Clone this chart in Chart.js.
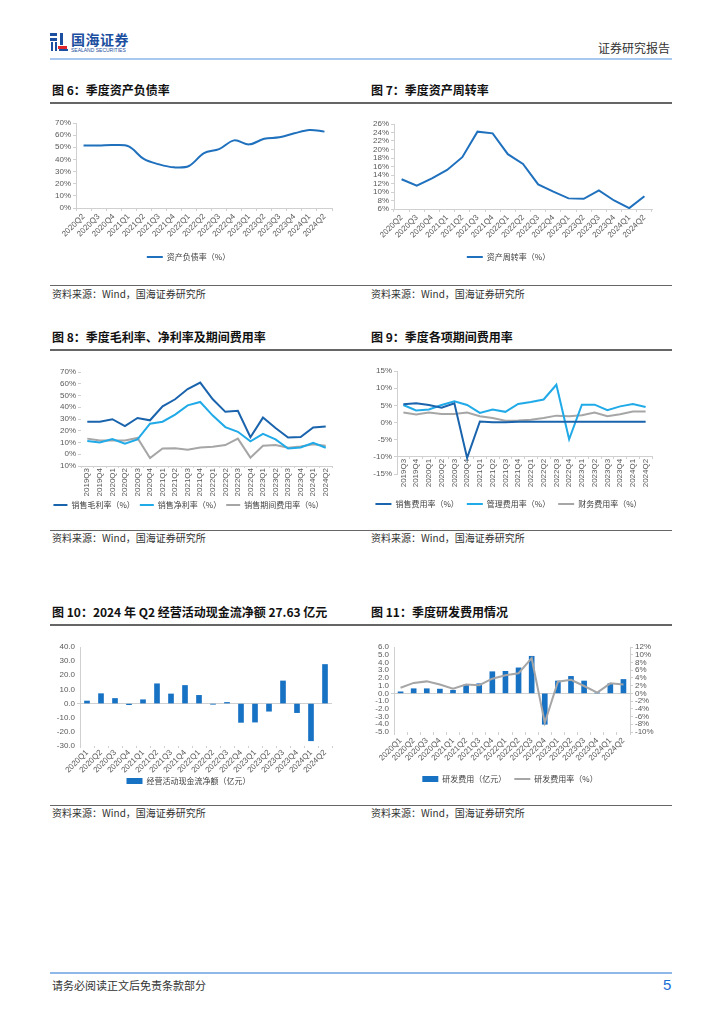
<!DOCTYPE html>
<html lang="zh-CN">
<head>
<meta charset="utf-8">
<script src="https://cdn.jsdelivr.net/npm/chart.js@4.4.1/dist/chart.umd.min.js"></script>
<style>
  body { margin: 0; background: #fff; width: 724px; height: 1024px; position: relative; overflow: hidden;
         font-family: "Noto Sans CJK SC", "Noto Sans", sans-serif; }
  .abs { position: absolute; }
  .title { position: absolute; font-size: 12px; font-weight: 700; color: #111; line-height: 14px; white-space: nowrap; }
  .src { position: absolute; font-size: 10px; color: #333; line-height: 12px; white-space: nowrap; }
  .rule { position: absolute; left: 50px; width: 622px; height: 1px; background: #666; }
  canvas { position: absolute; }
</style>
</head>
<body>

<!-- 页眉 -->
<div class="abs" style="left:50px;top:33px;width:7px;height:3px;background:#1c4fa0"></div>
<div class="abs" style="left:50px;top:38px;width:7px;height:3px;background:#1c4fa0"></div>
<div class="abs" style="left:51px;top:42px;width:2px;height:9px;background:#1c4fa0"></div>
<div class="abs" style="left:55px;top:42px;width:2px;height:9px;background:#1c4fa0"></div>
<div class="abs" style="left:60px;top:33px;width:3px;height:12px;background:#1c4fa0"></div>
<div class="abs" style="left:58px;top:46px;width:9px;height:3px;background:#e0262b"></div>
<div class="abs" style="left:59px;top:49px;width:9px;height:2px;background:#1c4fa0"></div>
<div class="abs" style="left:71px;top:31px;font-size:14px;font-weight:700;color:#1c4fa0;line-height:16px;letter-spacing:0.5px">国海证券</div>
<div class="abs" style="left:71px;top:47px;font-size:5px;color:#1c4fa0;line-height:6px;font-family:'Liberation Sans',sans-serif">SEALAND SECURITIES</div>
<div class="abs" style="left:598px;top:41px;font-size:12px;color:#333;line-height:14px">证券研究报告</div>
<div class="abs" style="left:50px;top:58px;width:622px;height:2px;background:#a8c8f0"></div>

<!-- 第一行 -->
<div class="title" style="left:52px;top:83px">图 6：季度资产负债率</div>
<div class="title" style="left:371px;top:83px">图 7：季度资产周转率</div>
<div class="rule" style="top:102px;height:2px"></div>
<canvas id="c6" width="300" height="170" style="left:45px;top:110px"></canvas>
<canvas id="c7" width="320" height="170" style="left:365px;top:110px"></canvas>
<div class="rule" style="top:285px"></div>
<div class="src" style="left:52px;top:288px">资料来源：Wind，国海证券研究所</div>
<div class="src" style="left:371px;top:288px">资料来源：Wind，国海证券研究所</div>

<!-- 第二行 -->
<div class="title" style="left:52px;top:330px">图 8：季度毛利率、净利率及期间费用率</div>
<div class="title" style="left:371px;top:330px">图 9：季度各项期间费用率</div>
<div class="rule" style="top:349px;height:2px"></div>
<canvas id="c8" width="300" height="165" style="left:45px;top:358px"></canvas>
<canvas id="c9" width="320" height="165" style="left:365px;top:358px"></canvas>
<div class="rule" style="top:530px"></div>
<div class="src" style="left:52px;top:532px">资料来源：Wind，国海证券研究所</div>
<div class="src" style="left:371px;top:532px">资料来源：Wind，国海证券研究所</div>

<!-- 第三行 -->
<div class="title" style="left:52px;top:605px">图 10：2024 年 Q2 经营活动现金流净额 27.63 亿元</div>
<div class="title" style="left:371px;top:605px">图 11：季度研发费用情况</div>
<div class="rule" style="top:624px;height:2px"></div>
<canvas id="c10" width="300" height="163" style="left:45px;top:632px"></canvas>
<canvas id="c11" width="320" height="163" style="left:365px;top:632px"></canvas>
<div class="rule" style="top:805px"></div>
<div class="src" style="left:52px;top:807px">资料来源：Wind，国海证券研究所</div>
<div class="src" style="left:371px;top:807px">资料来源：Wind，国海证券研究所</div>

<!-- 页脚 -->
<div class="abs" style="left:50px;top:972px;width:622px;height:2px;background:#8fb8ea"></div>
<div class="abs" style="left:52px;top:978px;font-size:11px;color:#333;line-height:14px">请务必阅读正文后免责条款部分</div>
<div class="abs" style="left:663px;top:976px;font-size:15px;color:#1a6fd6;line-height:18px;font-family:'Liberation Sans',sans-serif">5</div>

<script>
// 季度标签
const q2020Q2 = ['2020Q2','2020Q3','2020Q4','2021Q1','2021Q2','2021Q3','2021Q4','2022Q1','2022Q2','2022Q3','2022Q4','2023Q1','2023Q2','2023Q3','2023Q4','2024Q1','2024Q2'];
const q2019Q3 = ['2019Q3','2019Q4','2020Q1','2020Q2','2020Q3','2020Q4','2021Q1','2021Q2','2021Q3','2021Q4','2022Q1','2022Q2','2022Q3','2022Q4','2023Q1','2023Q2','2023Q3','2023Q4','2024Q1','2024Q2'];
const q2020Q1 = ['2020Q1','2020Q2','2020Q3','2020Q4','2021Q1','2021Q2','2021Q3','2021Q4','2022Q1','2022Q2','2022Q3','2022Q4','2023Q1','2023Q2','2023Q3','2023Q4','2024Q1','2024Q2'];

// 图6 资产负债率 (%)
const debtRatio = [51.5,51.5,51.8,50.7,40.4,36.0,33.5,34.6,45.2,48.5,55.7,52.4,57.0,58.2,61.5,64.3,62.9];
// 图7 资产周转率 (%)
const assetTurnover = [13.0,11.5,13.2,15.2,18.2,24.2,23.8,18.9,16.6,11.8,10.1,8.5,8.4,10.4,8.0,6.2,9.0];
// 图8 毛利率 / 净利率 / 期间费用率 (%)
const grossMargin = [27.7,27.7,29.8,24.0,30.9,28.9,40.8,46.8,55.5,61.0,46.8,36.1,37.0,14.5,31.2,22.3,14.2,14.7,22.8,23.7];
const netMargin = [11.3,10.1,13.0,9.0,12.7,26.0,27.7,33.8,41.6,44.5,32.9,23.1,19.1,11.0,17.3,12.7,4.9,5.8,9.8,5.5];
const periodExpense = [13.3,11.8,11.6,11.8,13.9,-3.2,4.9,5.2,3.8,5.8,6.4,7.8,13.3,-2.9,7.2,7.8,5.5,6.6,8.4,7.2];
// 图9 销售 / 管理 / 财务费用率 (%)
const salesExpense = [5.3,5.6,5.1,4.3,5.6,-10.3,0.3,0.1,0.1,0.2,0.2,0.2,0.2,0.2,0.2,0.2,0.2,0.2,0.2,0.2];
const adminExpense = [5.1,3.5,3.8,5.1,6.2,5.1,2.8,3.8,3.1,5.4,6.0,6.7,11.0,-4.9,5.2,5.2,3.6,4.7,5.4,4.5];
const financeExpense = [2.9,2.3,2.9,2.5,2.5,2.9,1.8,1.3,0.5,0.6,0.8,1.3,2.0,1.8,2.1,2.9,1.8,2.4,3.2,3.2];
// 图10 经营活动现金流净额 (亿元)
const opCashFlow = [1.8,7.0,3.6,-0.8,2.7,14.0,6.8,12.8,5.8,-0.5,0.8,-13.3,-13.1,-5.4,16.0,-6.4,-26.3,27.63];
// 图11 研发费用 (亿元) 与研发费用率 (%)
const rdExpense = [0.2,0.6,0.6,0.55,0.4,1.1,1.25,2.8,2.85,3.3,4.8,-4.0,1.6,2.2,1.6,0.05,1.25,1.8];
const rdRatio = [1.45,2.7,3.1,2.3,1.2,2.3,2.1,3.8,4.7,5.2,9.1,-7.6,3.0,3.5,1.9,0.2,2.6,2.3];

const BLUE = '#1f70bd';
const DARKBLUE = '#1a63ad';
const CYAN = '#21aae8';
const GRAY = '#a6a6a6';
const AXIS = '#d0d0d0';
const NONE = 'rgba(0,0,0,0)';

Chart.defaults.font.family = '"Liberation Sans", Arial, "Noto Sans CJK SC", sans-serif';
Chart.defaults.font.size = 8;
Chart.defaults.color = '#595959';
Chart.defaults.animation = false;
Chart.defaults.devicePixelRatio = 1;

const pct = v => v + '%';
const fix1 = v => v.toFixed(1);

// 通用的坐标轴设置
function yAxis(min, max, step, cb, width, extra) {
  return Object.assign({
    min, max,
    ticks: { stepSize: step, callback: cb, padding: 2, autoSkip: false },
    grid: { drawOnChartArea: false, tickLength: 3, color: AXIS },
    border: { color: AXIS },
    afterFit: s => { s.width = width; }
  }, extra || {});
}
function xAxis(rot, height, extra, tick) {
  return Object.assign({
    offset: true,
    ticks: { autoSkip: false, minRotation: rot, maxRotation: rot, padding: tick ? 0 : 1 },
    grid: { offset: true, drawOnChartArea: false, tickLength: tick || 3, color: AXIS },
    border: { color: AXIS },
    afterFit: s => { s.height = height; }
  }, extra || {});
}
function legend(pad, boxW) {
  return {
    position: 'bottom',
    labels: {
      usePointStyle: true, pointStyleWidth: boxW || 16, boxHeight: 6, padding: pad || 8,
      font: { family: '"Noto Sans CJK SC", sans-serif', size: 8 }, color: '#404040',
      sort: (a, b) => a.datasetIndex - b.datasetIndex
    }
  };
}
function lineSet(label, data, color, tension) {
  return { label, data, borderColor: color, backgroundColor: color, borderWidth: 2,
           pointRadius: 0, pointStyle: 'line', tension: tension || 0 };
}
function zeroGrid(val) {
  return { drawOnChartArea: true, tickLength: 3, color: c => c.tick && c.tick.value === val ? AXIS : NONE };
}

// 图6
new Chart(document.getElementById('c6'), {
  type: 'line',
  data: { labels: q2020Q2, datasets: [lineSet('资产负债率（%）', debtRatio, BLUE, 0.35)] },
  options: {
    responsive: false,
    layout: { padding: { top: 13, right: 13, bottom: 9 } },
    plugins: { legend: legend(), tooltip: { enabled: false } },
    scales: { x: xAxis(45, 37), y: yAxis(0, 70, 10, pct, 31) }
  }
});

// 图7
new Chart(document.getElementById('c7'), {
  type: 'line',
  data: { labels: q2020Q2, datasets: [lineSet('资产周转率（%）', assetTurnover, BLUE)] },
  options: {
    responsive: false,
    layout: { padding: { top: 14, right: 33, bottom: 9 } },
    plugins: { legend: legend(), tooltip: { enabled: false } },
    scales: { x: xAxis(45, 36), y: yAxis(6, 26, 2, pct, 29) }
  }
});

// 图8
new Chart(document.getElementById('c8'), {
  type: 'line',
  data: {
    labels: q2019Q3,
    datasets: [
      lineSet('销售毛利率（%）', grossMargin, DARKBLUE),
      lineSet('销售净利率（%）', netMargin, CYAN),
      lineSet('销售期间费用率（%）', periodExpense, GRAY)
    ]
  },
  options: {
    responsive: false,
    layout: { padding: { top: 14, right: 13, bottom: 4 } },
    plugins: { legend: legend(5, 14), tooltip: { enabled: false } },
    scales: {
      x: xAxis(90, 30, null, 2),
      y: yAxis(-10, 70, 10, v => Math.abs(v) + '%', 36, { border: { display: false } })
    }
  }
});

// 图9（横轴穿过 -10% 处）
new Chart(document.getElementById('c9'), {
  type: 'line',
  data: {
    labels: q2019Q3,
    datasets: [
      lineSet('销售费用率（%）', salesExpense, DARKBLUE),
      lineSet('管理费用率（%）', adminExpense, CYAN),
      lineSet('财务费用率（%）', financeExpense, GRAY)
    ]
  },
  options: {
    responsive: false,
    layout: { padding: { top: 13, right: 33, bottom: 5 } },
    plugins: { legend: legend(), tooltip: { enabled: false } },
    scales: {
      x: xAxis(90, 0, { position: { y: -10 } }, 2),
      // 只占位，给标签留出空间
      xpad: {
        type: 'category', position: 'bottom',
        grid: { display: false }, border: { display: false }, ticks: { display: false },
        afterFit: s => { s.height = 18; }
      },
      y: yAxis(-15, 15, 5, pct, 32)
    }
  }
});

// 图10
new Chart(document.getElementById('c10'), {
  type: 'bar',
  data: {
    labels: q2020Q1,
    datasets: [{ label: '经营活动现金流净额（亿元）', data: opCashFlow, backgroundColor: '#1872c4',
                 barThickness: 5, pointStyle: 'rect' }]
  },
  options: {
    responsive: false,
    layout: { padding: { top: 15, right: 13, bottom: 0 } },
    plugins: { legend: legend(4), tooltip: { enabled: false } },
    scales: {
      x: xAxis(45, 27, { border: { display: false } }, 2),
      y: yAxis(-30, 40, 10, fix1, 35, { grid: zeroGrid(0) })
    }
  }
});

// 图11
new Chart(document.getElementById('c11'), {
  type: 'bar',
  data: {
    labels: q2020Q1,
    datasets: [
      { label: '研发费用（亿元）', data: rdExpense, backgroundColor: '#1872c4', barThickness: 5,
        pointStyle: 'rect', yAxisID: 'y', order: 2 },
      Object.assign(lineSet('研发费用率（%）', rdRatio, GRAY), { type: 'line', yAxisID: 'y1', order: 1 })
    ]
  },
  options: {
    responsive: false,
    layout: { padding: { top: 15, right: 30, bottom: 2 } },
    plugins: { legend: legend(), tooltip: { enabled: false } },
    scales: {
      x: xAxis(45, 35, { border: { display: false } }),
      y: yAxis(-5, 6, 1, fix1, 29, { grid: zeroGrid(0) }),
      y1: yAxis(-10, 12, 2, pct, 25, { position: 'right' })
    }
  }
});
</script>
</body>
</html>
